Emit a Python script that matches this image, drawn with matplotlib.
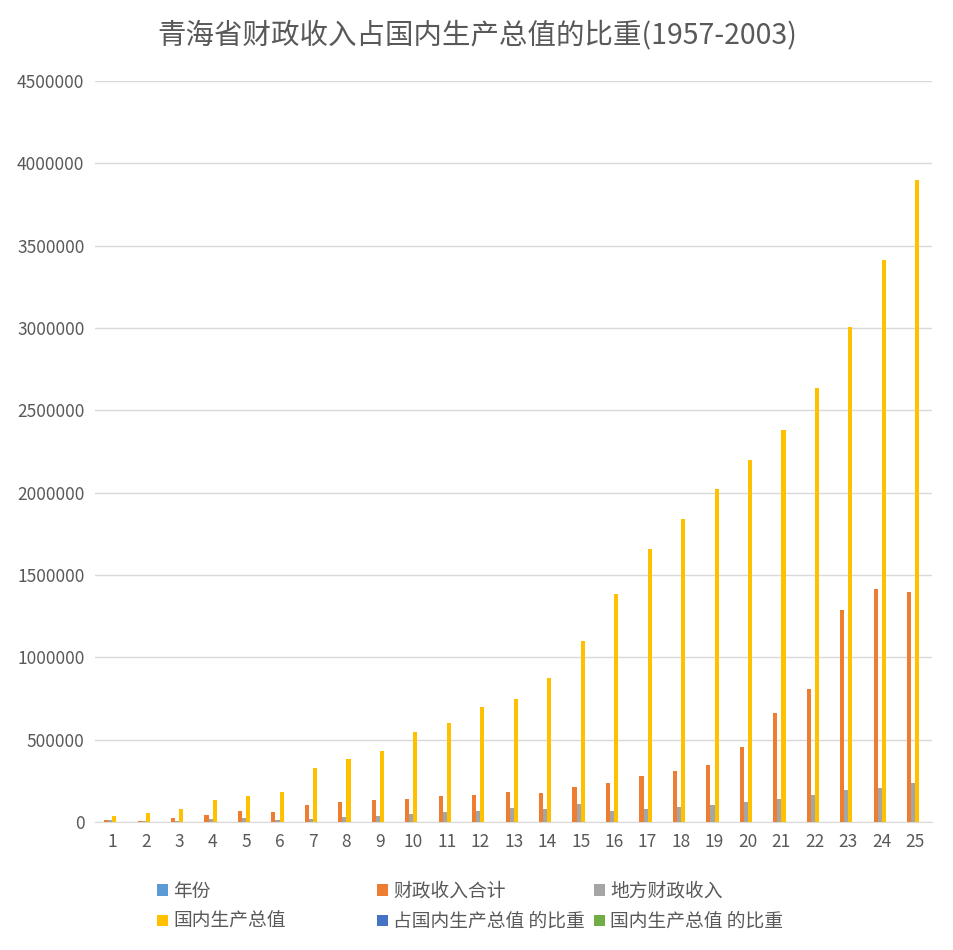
import numpy as np
import matplotlib
matplotlib.use("Agg")
import matplotlib.pyplot as plt
from matplotlib.patches import Patch

plt.rcParams['font.family'] = ['Noto Sans CJK SC', 'DejaVu Sans']

categories = [str(i) for i in range(1, 26)]
years = [1957, 1962, 1965, 1970, 1975, 1978, 1985, 1986, 1987, 1988, 1989, 1990,
         1991, 1992, 1993, 1994, 1995, 1996, 1997, 1998, 1999, 2000, 2001, 2002, 2003]
revenue_total = [12000, 8000, 26000, 44000, 69000, 63000, 105000, 123000, 134000, 138000,
                 159000, 166000, 182000, 178000, 214000, 239000, 277000, 312000, 346000,
                 455000, 664000, 809000, 1287000, 1415000, 1397000]
revenue_local = [10000, 6000, 8000, 18000, 26000, 10000, 18000, 30000, 37000, 50000,
                 59000, 69000, 87000, 81000, 111000, 67000, 81000, 93000, 105000,
                 123000, 141000, 164000, 196000, 208000, 239000]
gdp = [37000, 57000, 81000, 132000, 156000, 180000, 330000, 383000, 431000, 547000,
       602000, 698000, 748000, 874000, 1099000, 1385000, 1658000, 1840000, 2022000,
       2198000, 2380000, 2636000, 3006000, 3413000, 3899000]
ratio_total = [32.4, 14.0, 32.1, 33.3, 44.2, 35.0, 31.8, 32.1, 31.1, 25.2,
               26.4, 23.8, 24.3, 20.4, 19.5, 17.3, 16.7, 17.0, 17.1,
               20.7, 27.9, 30.7, 42.8, 41.5, 35.8]
ratio_local = [27.0, 10.5, 9.9, 13.6, 16.7, 5.6, 5.5, 7.8, 8.6, 9.1,
               9.8, 9.9, 11.6, 9.3, 10.1, 4.8, 4.9, 5.1, 5.2,
               5.6, 5.9, 6.2, 6.5, 6.1, 6.1]

series = [
    ("年份", years, "#5B9BD5"),
    ("财政收入合计", revenue_total, "#ED7D31"),
    ("地方财政收入", revenue_local, "#A5A5A5"),
    ("国内生产总值", gdp, "#FFC000"),
    ("占国内生产总值 的比重", ratio_total, "#4472C4"),
    ("国内生产总值 的比重", ratio_local, "#70AD47"),
]

fig = plt.figure(figsize=(9.54, 9.50), dpi=100)
ax = fig.add_axes([95.5 / 954, 1 - 822 / 950, 836.5 / 954, 741 / 950])

x = np.arange(1, len(categories) + 1)
w = 1 / (6 + 2.19)
for i, (name, vals, col) in enumerate(series):
    ax.bar(x + (i - 2.5) * w, vals, width=w, color=col, label=name, zorder=3)

ax.set_xlim(0.5, 25.5)
ax.set_ylim(0, 4500000)
ax.set_yticks(np.arange(0, 4500001, 500000))
ax.set_yticklabels([str(v) for v in range(0, 4500001, 500000)])
ax.set_xticks(x)
ax.set_xticklabels(categories)
ax.grid(axis="y", color="#D9D9D9", linewidth=1, zorder=0)
for s in ["top", "right", "left"]:
    ax.spines[s].set_visible(False)
ax.spines["bottom"].set_color("#D9D9D9")
ax.tick_params(axis="both", length=0, colors="#595959", labelsize=12.5, pad=8)

fig.text(0.5, 1 - 35 / 950, "青海省财政收入占国内生产总值的比重(1957-2003)",
         ha="center", va="center", fontsize=20.5, color="#595959")

# legend: three columns placed like the original
handles = [Patch(facecolor=c) for _, _, c in series]
labels = [n for n, _, _ in series]
col_x = [150 / 954, 370 / 954, 587 / 954]
for j in range(3):
    idx = [j, j + 3]
    fig.legend([handles[k] for k in idx], [labels[k] for k in idx],
               loc="upper left", bbox_to_anchor=(col_x[j], 1 - 873 / 950),
               frameon=False, fontsize=13.5, handlelength=0.55, handleheight=0.55,
               handletextpad=0.3, labelspacing=0.5, borderaxespad=0,
               labelcolor="#595959")

fig.savefig("out.png", dpi=100)
